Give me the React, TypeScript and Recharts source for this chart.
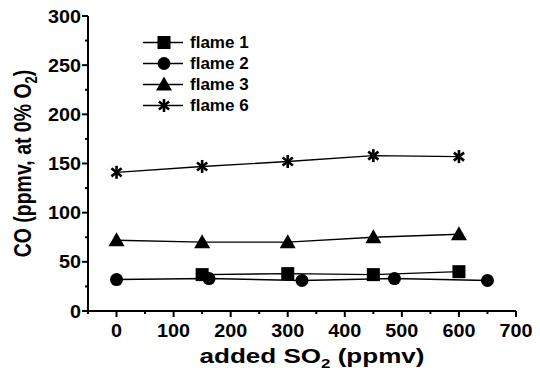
import React from "react";
import { LineChart, Line, XAxis, YAxis, Legend, Label } from "recharts";

const flame1X = [150, 300, 450, 600];
const flame1Y = [37, 38, 37, 40];
const flame2X = [0, 162, 325, 487, 650];
const flame2Y = [32, 33, 31, 33, 31];
const flame3X = [0, 150, 300, 450, 600];
const flame3Y = [72, 70, 70, 75, 78];
const flame6X = [0, 150, 300, 450, 600];
const flame6Y = [141, 147, 152, 158, 157];

const xTicks = [-50, 0, 50, 100, 150, 200, 250, 300, 350, 400, 450, 500, 550, 600, 650, 700];
const yTicks = [0, 25, 50, 75, 100, 125, 150, 175, 200, 225, 250, 275, 300];

const FONT = "'Liberation Sans', Arial, sans-serif";

const zip = (xs: number[], ys: number[]) => xs.map((x, i) => ({ x, y: ys[i] }));

type Marker = "square" | "circle" | "triangle" | "star";

const Symbol = ({ kind, cx, cy }: { kind: Marker; cx: number; cy: number }) => {
  if (kind === "square") return <rect x={cx - 6.5} y={cy - 6.5} width={13} height={13} fill="#000" />;
  if (kind === "circle") return <circle cx={cx} cy={cy} r={6.5} fill="#000" />;
  if (kind === "triangle")
    return <polygon points={`${cx},${cy - 8} ${cx - 8},${cy + 6} ${cx + 8},${cy + 6}`} fill="#000" />;
  const r = 6.5;
  const arms = [90, 38, 142].map((a) => {
    const t = (a * Math.PI) / 180;
    return (
      <line
        key={a}
        x1={cx - r * Math.cos(t)}
        y1={cy - r * Math.sin(t)}
        x2={cx + r * Math.cos(t)}
        y2={cy + r * Math.sin(t)}
        stroke="#000"
        strokeWidth={2.6}
      />
    );
  });
  return <g>{arms}</g>;
};

const series: { name: string; kind: Marker; data: { x: number; y: number }[] }[] = [
  { name: "flame 1", kind: "square", data: zip(flame1X, flame1Y) },
  { name: "flame 2", kind: "circle", data: zip(flame2X, flame2Y) },
  { name: "flame 3", kind: "triangle", data: zip(flame3X, flame3Y) },
  { name: "flame 6", kind: "star", data: zip(flame6X, flame6Y) },
];

const XTick = (props: any) => {
  const { x, y, payload } = props;
  const v = payload.value;
  const major = v % 100 === 0;
  const s = String(v);
  return (
    <g>
      <line x1={x} x2={x} y1={y} y2={y + (major ? 6 : 3)} stroke="#000" strokeWidth={2} />
      {major && (
        <text
          x={x}
          y={y + 26}
          textAnchor="middle"
          fontFamily={FONT}
          fontWeight="bold"
          fontSize={18}
          textLength={s.length * 11}
          lengthAdjust="spacingAndGlyphs"
          fill="#000"
        >
          {s}
        </text>
      )}
    </g>
  );
};

const YTick = (props: any) => {
  const { x, y, payload } = props;
  const v = payload.value;
  const major = v % 50 === 0;
  const s = String(v);
  return (
    <g>
      <line x1={x - (major ? 6 : 3)} x2={x} y1={y} y2={y} stroke="#000" strokeWidth={2} />
      {major && (
        <text
          x={x - 7}
          y={y + 6.5}
          textAnchor="end"
          fontFamily={FONT}
          fontWeight="bold"
          fontSize={18}
          textLength={s.length * 11}
          lengthAdjust="spacingAndGlyphs"
          fill="#000"
        >
          {s}
        </text>
      )}
    </g>
  );
};

const XTitle = (props: any) => {
  const vb = props.viewBox;
  const cx = vb.x + vb.width / 2 + 10;
  return (
    <text
      x={cx}
      y={vb.y + 52}
      textAnchor="middle"
      fontFamily={FONT}
      fontWeight="bold"
      fontSize={20}
      textLength={225}
      lengthAdjust="spacingAndGlyphs"
      fill="#000"
    >
      added SO
      <tspan fontSize={13} dy={5}>2</tspan>
      <tspan dy={-5}> (ppmv)</tspan>
    </text>
  );
};

const YTitle = (props: any) => {
  const vb = props.viewBox;
  const cy = vb.y + vb.height / 2;
  const cx = 31;
  return (
    <text
      x={0}
      y={0}
      transform={`translate(${cx} ${cy}) scale(1.2 1) rotate(-90)`}
      textAnchor="middle"
      fontFamily={FONT}
      fontWeight="bold"
      fontSize={19.5}
      fill="#000"
    >
      CO (ppmv, at 0% O
      <tspan fontSize={13} dy={5}>2</tspan>
      <tspan dy={-5}>)</tspan>
    </text>
  );
};

const LegendBox = () => (
  <div style={{ fontFamily: FONT, fontWeight: "bold", fontSize: 17 }}>
    {series.map((s) => (
      <div key={s.name} style={{ display: "flex", alignItems: "center", height: 21 }}>
        <svg width={44} height={21}>
          <line x1={0} x2={40} y1={10.5} y2={10.5} stroke="#000" strokeWidth={1.5} />
          <Symbol kind={s.kind} cx={21} cy={10.5} />
        </svg>
        <span style={{ marginLeft: 3, lineHeight: "21px" }}>{s.name}</span>
      </div>
    ))}
  </div>
);

export default function App() {
  return (
    <div style={{ position: "absolute", left: 0, top: 0 }}>
      <LineChart width={540} height={373} margin={{ top: 16, right: 24, left: 0, bottom: 0 }}>
        <XAxis
          xAxisId="b"
          type="number"
          dataKey="x"
          domain={[-50, 700]}
          ticks={xTicks}
          interval={0}
          allowDataOverflow
          height={62}
          tickSize={0}
          tickMargin={0}
          tickLine={false}
          axisLine={{ stroke: "#000", strokeWidth: 2 }}
          tick={<XTick />}
        >
          <Label content={<XTitle />} />
        </XAxis>
        <XAxis
          xAxisId="t"
          orientation="top"
          type="number"
          domain={[-50, 700]}
          height={0}
          tick={false}
          tickLine={false}
          axisLine={{ stroke: "#000", strokeWidth: 2 }}
        />
        <YAxis
          yAxisId="l"
          type="number"
          domain={[0, 300]}
          ticks={yTicks}
          interval={0}
          width={88}
          tickSize={0}
          tickMargin={0}
          tickLine={false}
          axisLine={{ stroke: "#000", strokeWidth: 2 }}
          tick={<YTick />}
        >
          <Label content={<YTitle />} />
        </YAxis>
        <YAxis
          yAxisId="r"
          orientation="right"
          type="number"
          domain={[0, 300]}
          width={0}
          tick={false}
          tickLine={false}
          axisLine={{ stroke: "#000", strokeWidth: 2 }}
        />
        <Legend
          layout="vertical"
          align="center"
          verticalAlign="middle"
          wrapperStyle={{ left: 143, top: 32, width: 140, height: 90 }}
          content={<LegendBox />}
        />
        {series.map((s) => (
          <Line
            key={s.name}
            name={s.name}
            data={s.data}
            dataKey="y"
            xAxisId="b"
            yAxisId="l"
            stroke="#000"
            strokeWidth={1.4}
            isAnimationActive={false}
            legendType="none"
            dot={(p: any) => <Symbol key={`${s.name}-${p.index}`} kind={s.kind} cx={p.cx} cy={p.cy} />}
            activeDot={false}
          />
        ))}
      </LineChart>
    </div>
  );
}
